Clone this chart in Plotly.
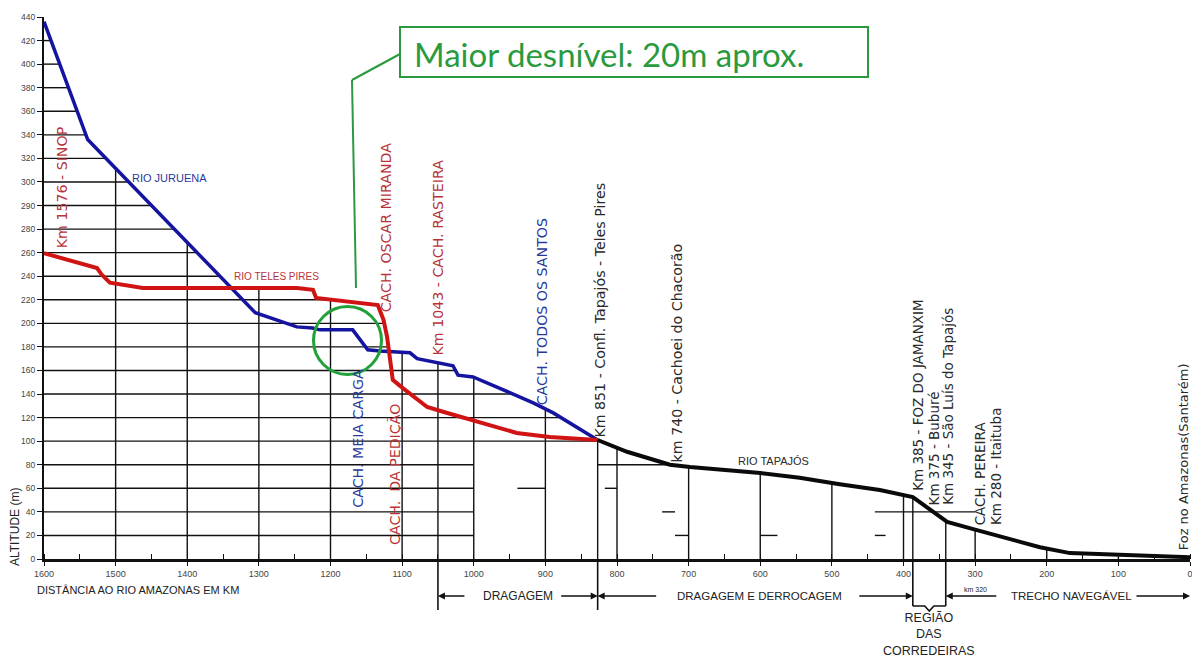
import numpy as np
import plotly.graph_objects as go

# ---------------- data ----------------
# The drawing's altitude scale is not uniform: the tick labels are evenly spaced
Y_TICK_LABELS = [0, 20, 40, 60, 80, 100, 120, 140, 160, 180, 200, 220, 240, 260,
                 280, 290, 300, 320, 340, 360, 380, 400, 420, 440]
Y_TICK_POS = list(range(0, 20 * len(Y_TICK_LABELS), 20))

X_TICKS = list(range(0, 1601, 100))

juruena_km = [1600, 1539, 1305, 1247, 1225, 1215, 1169, 1148, 1131, 1089, 1079,
              1029, 1022, 1001, 949, 917, 889, 827]
juruena_alt = [436, 336, 209, 197, 196, 194.5, 194.5, 177.5, 176.5, 175, 170,
               164, 156, 154.5, 141, 132.5, 124, 101]

teles_km = [1600, 1526, 1519, 1508, 1462, 1247, 1224.5, 1220, 1134, 1126, 1121,
            1113, 1099, 1065, 1043, 1001, 940, 894, 827]
teles_alt = [259.5, 247, 241, 234.5, 230, 230, 228.5, 221.5, 215.5, 203, 188.5,
             152, 145, 129, 125, 118, 107, 103.5, 101]

tapajos_km = [827, 786, 726, 698, 600, 545, 489, 433, 387, 339, 297.5, 209.5,
              167.5, 84, 0]
tapajos_alt = [101, 91, 80, 78, 73, 69, 63.5, 58.5, 52.5, 31.5, 24.5, 10, 5,
               3.5, 1.5]

# extra reference verticals (section limits)
section_km = [1050, 827, 387, 341]

# the low horizontal grid lines of the drawing are only partly drawn (km ranges)
low_grid_segments = {
    20: [(1600, 1000), (719, 700), (600, 576), (440, 425)],
    40: [(1600, 1000), (737, 719), (440, 300)],
    60: [(1600, 1000), (939, 900), (817, 800)],
    80: [(1600, 1000), (827, 726)],
}


def to_pos(alt):
    return np.interp(np.asarray(alt, dtype=float), Y_TICK_LABELS, Y_TICK_POS)


# ---------------- geometry helpers (layout) ----------------
W, H = 1200, 658
OFF = 8                      # page body margin offsets the figure on screen
PL, PR, PT, PB = 44, 1190, 17, 559   # plot area in screen pixels


def px(x):  # screen pixel x -> paper
    return (x - PL) / (PR - PL)


def py(y):  # screen pixel y -> paper
    return (PB - y) / (PB - PT)


def kx(km):  # km -> paper x (reversed axis 1600..0)
    return (1600 - km) / 1600


fig = go.Figure()

BLUE = "#1414a0"
RED = "#d01414"
BLACK = "#0a0a0a"
GREEN = "#2a9a3e"
TXT_RED = "#b8343a"
TXT_BLUE = "#2a3a9c"
TXT_DARK = "#2a2a2a"

fig.add_trace(go.Scatter(x=juruena_km, y=to_pos(juruena_alt), mode="lines",
                         line=dict(color=BLUE, width=3.5), name="Rio Juruena",
                         hoverinfo="skip"))
fig.add_trace(go.Scatter(x=teles_km, y=to_pos(teles_alt), mode="lines",
                         line=dict(color=RED, width=4), name="Rio Teles Pires",
                         hoverinfo="skip"))
fig.add_trace(go.Scatter(x=tapajos_km, y=to_pos(tapajos_alt), mode="lines",
                         line=dict(color=BLACK, width=4), name="Rio Tapajós",
                         hoverinfo="skip"))

# ---------------- grid drawn under the profile envelope ----------------
kgrid = np.arange(0, 1600.001, 0.5)


def on_grid(km, alt):
    km = np.asarray(km, dtype=float)
    p = to_pos(alt)
    o = np.argsort(km)
    return np.interp(kgrid, km[o], p[o], left=np.nan, right=np.nan)


env = np.nanmax(np.vstack([on_grid(juruena_km, juruena_alt),
                           on_grid(teles_km, teles_alt),
                           on_grid(tapajos_km, tapajos_alt)]), axis=0)

shapes = []
GRID = dict(color="#111111", width=1.4)


def hline(lvl, k0, k1):
    shapes.append(dict(type="line", xref="x", yref="y", x0=k0, x1=k1,
                       y0=lvl, y1=lvl, line=GRID, layer="below"))


for lvl in Y_TICK_POS[1:]:
    if lvl in low_grid_segments:
        for k0, k1 in low_grid_segments[lvl]:
            hline(lvl, k0, k1)
        continue
    below = (env < lvl)[::-1]
    if below[0]:
        continue
    km_end = kgrid[::-1][np.argmax(below)] if below.any() else 0
    hline(lvl, 1600, km_end)

for k in X_TICKS[1:-1] + section_km:
    top = float(np.interp(k, kgrid, env))
    shapes.append(dict(type="line", xref="x", yref="y", x0=k, x1=k, y0=0,
                       y1=top, line=GRID, layer="below"))

# section limit lines below the axis
for k, y_end in zip(section_km, [610, 610, 606, 606]):
    shapes.append(dict(type="line", xref="paper", yref="paper", x0=kx(k), x1=kx(k),
                       y0=0, y1=py(y_end), line=dict(color="#111", width=1.6)))
# brace of the rapids region
xa, xb = kx(387), kx(341)
xm = (xa + xb) / 2
shapes.append(dict(type="path", xref="paper", yref="paper",
                   path=f"M {xa} {py(606)} L {xm - 0.004} {py(606)} L {xm} {py(611)} "
                        f"L {xm + 0.004} {py(606)} L {xb} {py(606)}",
                   line=dict(color="#111", width=1.6)))

# green highlight
shapes.append(dict(type="rect", xref="paper", yref="paper", x0=px(400), x1=px(868),
                   y0=py(77), y1=py(27), line=dict(color=GREEN, width=2)))
shapes.append(dict(type="line", xref="paper", yref="paper", x0=px(400), y0=py(54),
                   x1=px(352), y1=py(80), line=dict(color=GREEN, width=2)))
shapes.append(dict(type="line", xref="paper", yref="paper", x0=px(352), y0=py(80),
                   x1=px(356), y1=py(288), line=dict(color=GREEN, width=2)))
shapes.append(dict(type="circle", xref="paper", yref="paper", x0=px(313.5),
                   x1=px(381.5), y0=py(374.5), y1=py(306.5),
                   line=dict(color="#22a03a", width=3)))

# ---------------- annotations ----------------
ROT_FONT = "DejaVu Sans"
NAR_FONT = "Liberation Sans Narrow, Liberation Sans, Arial"
ann = []


def rot(text, km, alt_bottom, color, size=14.2):
    ann.append(dict(text=text, x=km, y=float(to_pos(alt_bottom)), xref="x", yref="y",
                    textangle=-90, showarrow=False, xanchor="center",
                    yanchor="bottom", font=dict(family=ROT_FONT, size=size,
                                                color=color)))


rot("Km 1576 - SINOP", 1575, 262, TXT_RED)
rot("CACH. OSCAR MIRANDA", 1122, 208, TXT_RED)
rot("Km 1043 - CACH. RASTEIRA", 1050, 171, TXT_RED)
rot("CACH. TODOS OS SANTOS", 905, 129, TXT_BLUE)
rot("Km 851 - Confl. Tapajós - Teles Pires", 825, 101, TXT_DARK)
rot("km 740 - Cachoei do Chacorão", 716, 80, TXT_DARK)
rot("CACH. MEIA CARGA", 1162, 42, TXT_BLUE)
rot("CACH.  DA PEDIÇÃO", 1111, 10, TXT_RED)
rot("Km 385 - FOZ DO JAMANXIM", 380, 56, TXT_DARK, 13.5)
rot("Km 375 - Buburé", 357, 44, TXT_DARK, 13.5)
rot("Km 345 - São Luís do Tapajós", 339, 44, TXT_DARK, 13.5)
rot("CACH. PEREIRA", 293, 27, TXT_DARK, 13.5)
rot("Km 280 - Itaituba", 271, 27, TXT_DARK, 13.5)
rot("Foz no Amazonas(Santarém)", 8.5, 6, TXT_DARK, 13)


def hlab(text, km, alt, color, size=12):
    ann.append(dict(text=text, x=km, y=float(to_pos(alt)), xref="x", yref="y",
                    showarrow=False, font=dict(family=NAR_FONT, size=size,
                                               color=color)))


hlab("RIO JURUENA", 1425, 303, TXT_BLUE, 11)
hlab("RIO TELES PIRES", 1275, 240, TXT_RED, 10)
hlab("RIO TAPAJÓS", 581, 83, TXT_DARK, 11)


def ptxt(text, x, y, size=12, xanchor="center", yanchor="middle", color="#222",
         family=NAR_FONT, angle=0):
    ann.append(dict(text=text, x=x, y=y, xref="paper", yref="paper",
                    showarrow=False, xanchor=xanchor, yanchor=yanchor,
                    textangle=angle, font=dict(family=family, size=size,
                                               color=color)))


def arrow(x_head, y, ax):
    ann.append(dict(text="", x=x_head, y=y, xref="paper", yref="paper", ax=ax,
                    ay=0, showarrow=True, arrowhead=2, arrowsize=1,
                    arrowwidth=1.4, arrowcolor="#111"))


ptxt("DISTÂNCIA AO RIO AMAZONAS EM KM", px(35), py(590), size=11, xanchor="left")
ptxt("ALTITUDE (m)", px(15), py(568), size=12, yanchor="bottom", angle=-90)

yb = py(596)
ptxt("DRAGAGEM", px(518), yb, size=12)
arrow(kx(1050), yb, 28)
arrow(kx(827), yb, -38)
ptxt("DRAGAGEM E DERROCAGEM", px(759), yb, size=11.5)
arrow(kx(827), yb, 60)
arrow(kx(387), yb, -55)
ptxt("km 320", px(975), py(589), size=7)
arrow(kx(341), yb, 52)
ptxt("TRECHO NAVEGÁVEL", px(1071), yb, size=11.5)
arrow(kx(0), yb, -55)
ptxt("REGIÃO<br>DAS<br>CORREDEIRAS", (xa + xb) / 2, py(609), size=12.5,
     yanchor="top")

ptxt("Maior desnível: 20m aprox.", px(412), py(54), size=33, xanchor="left",
     color=GREEN, family="Lato")

fig.update_layout(
    width=W, height=H, autosize=False,
    margin=dict(l=PL - OFF, r=W - PR + OFF, t=PT - OFF, b=H - PB + OFF,
                autoexpand=False),
    paper_bgcolor="white", plot_bgcolor="white",
    showlegend=False, shapes=shapes, annotations=ann,
    xaxis=dict(range=[1600, 0], tickmode="array", tickvals=X_TICKS,
               ticktext=[str(v) for v in X_TICKS], showgrid=False,
               zeroline=False, showline=True, linecolor="#111", linewidth=2.5,
               ticks="outside", ticklen=4, tickcolor="#111", automargin=False,
               tickfont=dict(family=NAR_FONT, size=9, color="#444"),
               minor=dict(dtick=50, tick0=0, ticks="inside", ticklen=5,
                          tickcolor="#111", showgrid=False)),
    yaxis=dict(range=[0, 460], tickmode="array", tickvals=Y_TICK_POS,
               ticktext=[str(v) for v in Y_TICK_LABELS], showgrid=False,
               zeroline=False, showline=True, linecolor="#111", linewidth=2,
               ticks="outside", ticklen=5, tickcolor="#111", automargin=False,
               tickfont=dict(family=NAR_FONT, size=8.5, color="#444")),
)

fig.write_html("out.html")
